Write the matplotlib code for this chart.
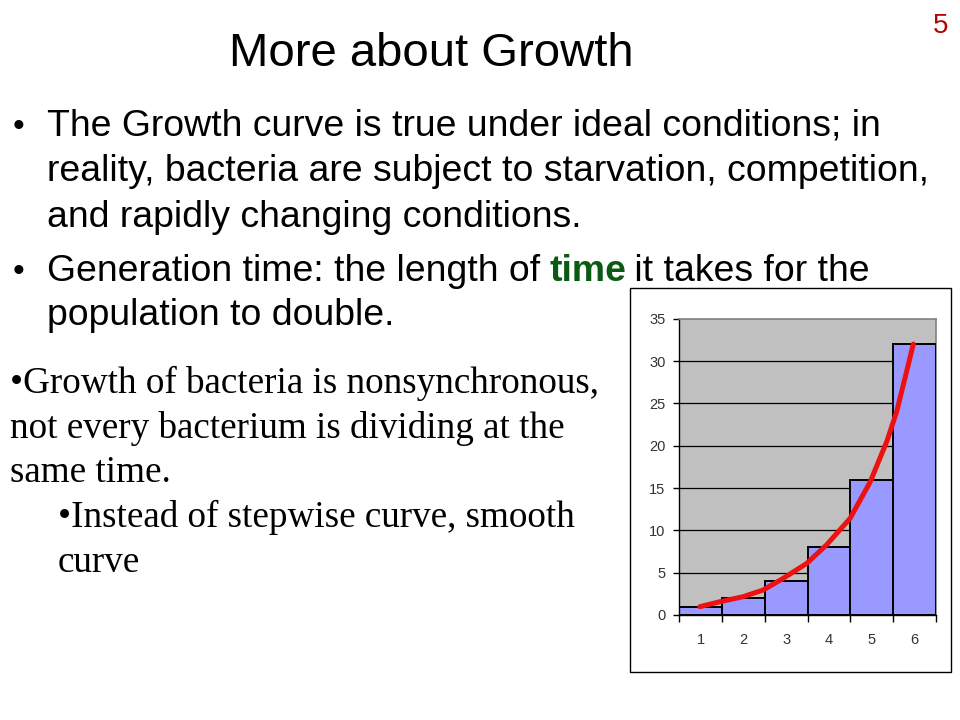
import matplotlib
matplotlib.use("Agg")
import matplotlib.pyplot as plt
from matplotlib.patches import Rectangle

# ---- data ----
generations = [1, 2, 3, 4, 5, 6]
population = [1, 2, 4, 8, 16, 32]
curve_x = [0.98, 1.45, 1.99, 2.46, 2.93, 3.48, 3.94, 4.49, 4.96, 5.35, 5.58, 5.81, 5.97]
curve_y = [0.98, 1.57, 2.16, 2.95, 4.33, 6.1, 8.27, 11.4, 15.7, 20.5, 24.0, 28.7, 32.0]
y_ticks = [0, 5, 10, 15, 20, 25, 30, 35]

title = "More about Growth"
bullet1 = ["The Growth curve is true under ideal conditions; in",
           "reality, bacteria are subject to starvation, competition,",
           "and rapidly changing conditions."]
bullet2_a = "Generation time: the length of "
bullet2_b = "time"
bullet2_c = " it takes for the"
bullet2_line2 = "population to double."
serif_lines = ["\u2022Growth of bacteria is nonsynchronous,",
               "not every bacterium is dividing at the",
               "same time."]
serif_sub = ["\u2022Instead of stepwise curve, smooth", "curve"]

W, H = 960, 720
fig = plt.figure(figsize=(9.6, 7.2), dpi=100)
fig.patch.set_facecolor("white")

def fx(x):
    return x / W

def fy(y):
    return 1 - y / H

sans = "Liberation Sans"
serif = "Liberation Serif"

# title and page number
fig.text(fx(431), fy(66), title, ha="center", va="baseline", fontsize=34, family=sans)
fig.text(fx(941), fy(33), "5", ha="center", va="baseline", fontsize=20, family=sans, color="#B80000")

# bullet 1
bsize = 26.9
fig.text(fx(18), fy(136), "\u2022", ha="center", va="baseline", fontsize=24, family=sans)
for i, line in enumerate(bullet1):
    fig.text(fx(47), fy(136 + 45.3 * i), line, ha="left", va="baseline", fontsize=bsize, family=sans)

# bullet 2
fig.text(fx(18), fy(281), "\u2022", ha="center", va="baseline", fontsize=24, family=sans)
fig.text(fx(47), fy(281), bullet2_a, ha="left", va="baseline", fontsize=bsize, family=sans)
fig.text(fx(549), fy(281), bullet2_b, ha="left", va="baseline", fontsize=bsize, family=sans,
         fontweight="bold", color="#0A5A14")
fig.text(fx(624), fy(281), bullet2_c, ha="left", va="baseline", fontsize=bsize, family=sans)
fig.text(fx(47), fy(325), bullet2_line2, ha="left", va="baseline", fontsize=bsize, family=sans)

# serif text
ssize = 26.7
for i, line in enumerate(serif_lines):
    fig.text(fx(10), fy(393 + 44.6 * i), line, ha="left", va="baseline", fontsize=ssize, family=serif)
for i, line in enumerate(serif_sub):
    fig.text(fx(58), fy(527 + 44.6 * i), line, ha="left", va="baseline", fontsize=ssize, family=serif)

# outer chart box
fig.patches.append(Rectangle((fx(630), fy(672)), fx(951 - 630), (672 - 288) / H,
                             transform=fig.transFigure, fill=False, edgecolor="black",
                             linewidth=1.0, zorder=0))

# chart
ax = fig.add_axes([fx(679.3), fy(615), fx(936 - 679.3), (615 - 318.7) / H])
ax.set_facecolor("#C0C0C0")
for y in y_ticks[1:-1]:
    ax.axhline(y, color="black", linewidth=0.9, zorder=1)
ax.bar(generations, population, width=1.0, color="#9999FF", edgecolor="black",
       linewidth=1.4, zorder=2)
ax.plot(curve_x, curve_y, color="#EE1111", linewidth=3.6, solid_capstyle="round",
        solid_joinstyle="round", zorder=3)
ax.set_xlim(0.5, 6.5)
ax.set_ylim(0, 35)
ax.set_yticks(y_ticks)
ax.set_yticklabels([str(v) for v in y_ticks], fontsize=10.5, family=sans, color="#333333")
ax.set_xticks(generations)
ax.set_xticklabels([str(v) for v in generations], fontsize=10.5, family=sans, color="#333333")
ax.set_xticks([g + 0.5 for g in [0] + generations], minor=True)
ax.tick_params(axis="x", which="major", length=0, pad=13)
ax.tick_params(axis="x", which="minor", length=5, width=1, direction="out", color="black")
ax.tick_params(axis="y", which="major", length=4, width=1, direction="out", pad=6, color="black")
for side in ("top", "right"):
    ax.spines[side].set_color("#808080")
    ax.spines[side].set_linewidth(1.2)
for side in ("left", "bottom"):
    ax.spines[side].set_color("black")
    ax.spines[side].set_linewidth(1.0)
ax.spines["right"].set_zorder(1)

fig.savefig("out.png", dpi=100, facecolor="white")
